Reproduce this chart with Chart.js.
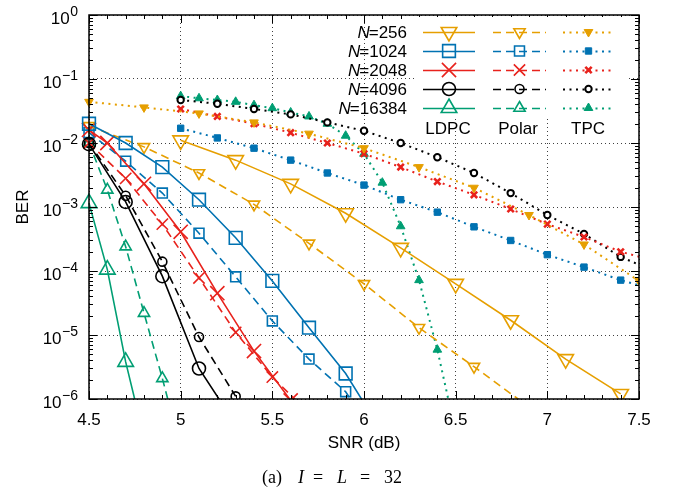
<!DOCTYPE html>
<html>
<head>
<meta charset="utf-8">
<script src="https://cdn.jsdelivr.net/npm/chart.js@4/dist/chart.umd.min.js"></script>
<style>
  html, body { margin: 0; padding: 0; background: #fff; }
</style>
</head>
<body>
<canvas id="myChart" width="678" height="498"></canvas>
<script>
// block lengths and code families
const nLabels = ['256', '1024', '2048', '4096', '16384'];
const codeNames = ['LDPC', 'Polar', 'TPC'];
const xTickVals = [4.5, 5, 5.5, 6, 6.5, 7, 7.5];
const yTickVals = [1e-6, 1e-5, 1e-4, 1e-3, 1e-2, 1e-1, 1];

// LDPC (solid)
const ldpc256Snr = [5.0, 5.3, 5.6, 5.9, 6.2, 6.5, 6.8, 7.1, 7.4];
const ldpc256Ber = [1.1e-2, 5.4e-3, 2.3e-3, 8e-4, 2.3e-4, 6.3e-5, 1.7e-5, 4.2e-6, 1.2e-6];
const ldpc1024Snr = [4.5, 4.7, 4.9, 5.1, 5.3, 5.5, 5.7, 5.9, 6.1];
const ldpc1024Ber = [2e-2, 1e-2, 4.2e-3, 1.3e-3, 3.3e-4, 7e-5, 1.3e-5, 2.5e-6, 3e-7];
const ldpc2048Snr = [4.5, 4.6, 4.8, 5.0, 5.2, 5.4, 5.6];
const ldpc2048Ber = [1.6e-2, 1e-2, 2.3e-3, 4.1e-4, 4.5e-5, 5.6e-6, 9.5e-7];
const ldpc4096Snr = [4.5, 4.7, 4.9, 5.1, 5.3];
const ldpc4096Ber = [9.6e-3, 1.2e-3, 8.3e-5, 3e-6, 4e-7];
const ldpc16384Snr = [4.5, 4.6, 4.7, 4.8];
const ldpc16384Ber = [1.15e-3, 1.05e-4, 3.8e-6, 2.5e-7];

// Polar (dashed)
const polar256Snr = [4.5, 4.8, 5.1, 5.4, 5.7, 6.0, 6.3, 6.6, 6.9];
const polar256Ber = [1.85e-2, 8.7e-3, 3.4e-3, 1.1e-3, 2.7e-4, 6.3e-5, 1.3e-5, 3.2e-6, 7.5e-7];
const polar1024Snr = [4.5, 4.7, 4.9, 5.1, 5.3, 5.5, 5.7, 5.9, 6.1];
const polar1024Ber = [1.45e-2, 5.2e-3, 1.65e-3, 3.9e-4, 8.1e-5, 1.66e-5, 4.2e-6, 1.3e-6, 1.6e-7];
const polar2048Snr = [4.5, 4.7, 4.9, 5.1, 5.3, 5.5, 5.7];
const polar2048Ber = [1e-2, 2.8e-3, 5.4e-4, 7.8e-5, 1.1e-5, 2.2e-6, 6e-7];
const polar4096Snr = [4.5, 4.7, 4.9, 5.1, 5.3];
const polar4096Ber = [1e-2, 1.5e-3, 1.4e-4, 9.3e-6, 1.1e-6];
const polar16384Snr = [4.5, 4.6, 4.7, 4.8, 4.9, 5.0];
const polar16384Ber = [1e-2, 1.85e-3, 2.4e-4, 2.2e-5, 2.1e-6, 1.7e-7];

// TPC (dotted)
const tpc256Snr = [4.5, 4.8, 5.1, 5.4, 5.7, 6.0, 6.3, 6.6, 6.9, 7.2, 7.5];
const tpc256Ber = [4.4e-2, 3.6e-2, 2.9e-2, 2.1e-2, 1.4e-2, 8.3e-3, 4.2e-3, 2e-3, 7.5e-4, 2.6e-4, 7e-5];
const tpc1024Snr = [5.0, 5.2, 5.4, 5.6, 5.8, 6.0, 6.2, 6.4, 6.6, 6.8, 7.0, 7.2, 7.4, 7.6];
const tpc1024Ber = [1.7e-2, 1.2e-2, 8.3e-3, 5.4e-3, 3.4e-3, 2.2e-3, 1.3e-3, 8.3e-4, 4.9e-4, 3e-4, 1.8e-4, 1.15e-4, 7.2e-5, 5e-5];
const tpc2048Snr = [5.0, 5.2, 5.4, 5.6, 5.8, 6.0, 6.2, 6.4, 6.6, 6.8, 7.0, 7.2, 7.4, 7.6];
const tpc2048Ber = [3.4e-2, 2.6e-2, 2e-2, 1.45e-2, 1e-2, 6.8e-3, 4.2e-3, 2.5e-3, 1.55e-3, 9.3e-4, 5.4e-4, 3.4e-4, 2e-4, 1.4e-4];
const tpc4096Snr = [5.0, 5.2, 5.4, 5.6, 5.8, 6.0, 6.2, 6.4, 6.6, 6.8, 7.0, 7.2, 7.4, 7.6];
const tpc4096Ber = [4.7e-2, 4.1e-2, 3.4e-2, 2.8e-2, 2.1e-2, 1.55e-2, 1e-2, 6e-3, 3.4e-3, 1.65e-3, 7.5e-4, 3.8e-4, 1.66e-4, 9.5e-5];
const tpc16384Snr = [5.0, 5.1, 5.2, 5.3, 5.4, 5.5, 5.6, 5.7, 5.8, 5.9, 6.0, 6.1, 6.2, 6.3, 6.4, 6.5];
const tpc16384Ber = [5.4e-2, 5e-2, 4.7e-2, 4.4e-2, 3.9e-2, 3.5e-2, 3e-2, 2.6e-2, 2e-2, 1.3e-2, 6.8e-3, 2.4e-3, 5e-4, 7.2e-5, 5.9e-6, 3e-7];

const series = [
    { code: 0, n: 0, snr: ldpc256Snr, ber: ldpc256Ber },
    { code: 0, n: 1, snr: ldpc1024Snr, ber: ldpc1024Ber },
    { code: 0, n: 2, snr: ldpc2048Snr, ber: ldpc2048Ber },
    { code: 0, n: 3, snr: ldpc4096Snr, ber: ldpc4096Ber },
    { code: 0, n: 4, snr: ldpc16384Snr, ber: ldpc16384Ber },
    { code: 1, n: 0, snr: polar256Snr, ber: polar256Ber },
    { code: 1, n: 1, snr: polar1024Snr, ber: polar1024Ber },
    { code: 1, n: 2, snr: polar2048Snr, ber: polar2048Ber },
    { code: 1, n: 3, snr: polar4096Snr, ber: polar4096Ber },
    { code: 1, n: 4, snr: polar16384Snr, ber: polar16384Ber },
    { code: 2, n: 0, snr: tpc256Snr, ber: tpc256Ber },
    { code: 2, n: 1, snr: tpc1024Snr, ber: tpc1024Ber },
    { code: 2, n: 2, snr: tpc2048Snr, ber: tpc2048Ber },
    { code: 2, n: 3, snr: tpc4096Snr, ber: tpc4096Ber },
    { code: 2, n: 4, snr: tpc16384Snr, ber: tpc16384Ber }
];

// styles
const colors = ['#e69f00', '#0072b2', '#e8221c', '#000000', '#009e73'];
const shapes = ['triangle', 'rect', 'crossRot', 'circle', 'triangle'];
const rotations = [180, 0, 0, 0, 0];
const dashes = [[], [8, 5], [2, 4.5]];
const lineWidths = [1.6, 1.6, 2];
const radii = [
    [9, 9, 10, 6.5, 9],
    [6.5, 7, 8, 4.5, 6.5],
    [5, 4.5, 4.5, 3.2, 5]
];

function markerStyle(code, n) {
    const filled = code === 2;
    let bg = filled ? colors[n] : 'rgba(0,0,0,0)';
    let bw = 1.6;
    if (filled && shapes[n] === 'circle') { bg = '#ffffff'; bw = 2; }
    if (filled && shapes[n] === 'crossRot') bw = 2.6;
    if (filled && (shapes[n] === 'triangle' || shapes[n] === 'rect')) bw = 1;
    return {
        pointStyle: shapes[n],
        rotation: rotations[n],
        radius: radii[code][n],
        borderWidth: bw,
        backgroundColor: bg,
        borderColor: colors[n]
    };
}

const datasets = series.map(s => {
    const m = markerStyle(s.code, s.n);
    return {
        label: codeNames[s.code] + ' N=' + nLabels[s.n],
        data: s.snr.map((x, i) => ({ x: x, y: s.ber[i] })),
        borderColor: colors[s.n],
        borderWidth: lineWidths[s.code],
        borderDash: dashes[s.code],
        pointStyle: m.pointStyle,
        pointRotation: m.rotation,
        pointRadius: m.radius,
        pointHoverRadius: m.radius,
        pointBorderWidth: m.borderWidth,
        pointBackgroundColor: m.backgroundColor,
        pointBorderColor: m.borderColor,
        fill: false,
        tension: 0,
        clip: { left: 12, top: 5, right: 0, bottom: 0 }
    };
});

const SANS = '"Liberation Sans", Arial, sans-serif';
const SERIF = '"Liberation Serif", "Times New Roman", serif';

const decorations = {
    id: 'decorations',
    afterDraw(chart) {
        const ctx = chart.ctx;
        const a = chart.chartArea;
        const xs = chart.scales.x;
        const ys = chart.scales.y;
        ctx.save();
        ctx.setLineDash([]);

        // inside tick marks
        ctx.strokeStyle = '#000';
        ctx.lineWidth = 1;
        ctx.beginPath();
        for (let v = 45; v <= 75; v++) {
            const px = Math.round(xs.getPixelForValue(v / 10)) + 0.5;
            const len = v % 5 === 0 ? 8 : 4;
            ctx.moveTo(px, a.bottom); ctx.lineTo(px, a.bottom - len);
            ctx.moveTo(px, a.top); ctx.lineTo(px, a.top + len);
        }
        for (let e = -6; e <= 0; e++) {
            for (let m = 1; m <= 9; m++) {
                const v = m * Math.pow(10, e);
                if (v > 1) break;
                const py = Math.round(ys.getPixelForValue(v)) + 0.5;
                const len = m === 1 ? 8 : 4;
                ctx.moveTo(a.left, py); ctx.lineTo(a.left + len, py);
                ctx.moveTo(a.right, py); ctx.lineTo(a.right - len, py);
            }
        }
        ctx.stroke();

        // legend box
        ctx.fillStyle = '#fff';
        ctx.fillRect(417, 17, 211, 100);
        const rowY0 = 32, rowStep = 19;
        const colX = [[423, 475], [493, 546], [563, 614]];
        for (let n = 0; n < nLabels.length; n++) {
            const y = rowY0 + n * rowStep;
            ctx.fillStyle = '#000';
            ctx.textBaseline = 'alphabetic';
            ctx.textAlign = 'right';
            ctx.font = '17px ' + SANS;
            const rest = '=' + nLabels[n];
            ctx.fillText(rest, 407, y + 6);
            const w = ctx.measureText(rest).width;
            ctx.font = 'italic 17px ' + SANS;
            ctx.fillText('N', 407 - w + 1, y + 6);
            for (let c = 0; c < 3; c++) {
                ctx.save();
                ctx.strokeStyle = colors[n];
                ctx.lineWidth = lineWidths[c];
                ctx.setLineDash(dashes[c]);
                ctx.beginPath();
                ctx.moveTo(colX[c][0], y + 0.5);
                ctx.lineTo(colX[c][1], y + 0.5);
                ctx.stroke();
                ctx.setLineDash([]);
                const m = markerStyle(c, n);
                ctx.fillStyle = m.backgroundColor;
                ctx.strokeStyle = m.borderColor;
                ctx.lineWidth = m.borderWidth;
                Chart.helpers.drawPoint(ctx, m, (colX[c][0] + colX[c][1]) / 2, y);
                ctx.restore();
            }
        }
        ctx.fillStyle = '#000';
        ctx.textAlign = 'center';
        ctx.font = '17px ' + SANS;
        ctx.fillText('LDPC', 448, 134);
        ctx.fillText('Polar', 518, 134);
        ctx.fillText('TPC', 588, 134);

        // frame
        ctx.strokeStyle = '#000';
        ctx.lineWidth = 1.5;
        ctx.strokeRect(a.left, a.top, a.right - a.left, a.bottom - a.top);

        // x tick labels
        ctx.fillStyle = '#000';
        ctx.font = '17px ' + SANS;
        ctx.textAlign = 'center';
        xTickVals.forEach(v => {
            ctx.fillText(String(v), xs.getPixelForValue(v), 425);
        });

        // y tick labels with superscript exponent
        yTickVals.forEach(v => {
            const py = ys.getPixelForValue(v);
            const ex = Math.round(Math.log10(v));
            const sup = ex === 0 ? '0' : '\u2212' + Math.abs(ex);
            ctx.textAlign = 'right';
            ctx.font = '14px ' + SANS;
            ctx.fillText(sup, 78, py + 1);
            const sw = ctx.measureText(sup).width;
            ctx.font = '17px ' + SANS;
            ctx.fillText('10', 78 - sw - 0.5, py + 9);
        });

        // axis titles
        ctx.textAlign = 'center';
        ctx.font = '17px ' + SANS;
        ctx.fillText('SNR (dB)', (a.left + a.right) / 2, 448);
        ctx.save();
        ctx.translate(23, (a.top + a.bottom) / 2);
        ctx.rotate(-Math.PI / 2);
        ctx.textBaseline = 'middle';
        ctx.fillText('BER', 0, 0);
        ctx.restore();

        // caption, math-style spacing
        const parts = [['(a)', false, 262], ['I', true, 298], ['=', false, 313], ['L', true, 337], ['=', false, 360], ['32', false, 384]];
        ctx.textAlign = 'left';
        parts.forEach(p => {
            ctx.font = (p[1] ? 'italic ' : '') + '18px ' + SERIF;
            ctx.fillText(p[0], p[2], 483);
        });
        ctx.restore();
    }
};

const gridColor = 'rgba(0,0,0,0.75)';
const ctx = document.getElementById('myChart').getContext('2d');
new Chart(ctx, {
    type: 'line',
    data: { datasets: datasets },
    options: {
        responsive: false,
        animation: false,
        devicePixelRatio: 1,
        layout: { padding: { left: 0, right: 39, top: 15, bottom: 0 }, autoPadding: false },
        plugins: { legend: { display: false }, tooltip: { enabled: false } },
        scales: {
            x: {
                type: 'linear',
                min: 4.5,
                max: 7.5,
                afterBuildTicks: s => { s.ticks = xTickVals.map(v => ({ value: v })); },
                afterFit: s => { s.height = 99; },
                ticks: { display: false },
                grid: { color: gridColor, lineWidth: 1, drawTicks: false },
                border: { display: false, dash: [1, 3] }
            },
            y: {
                type: 'logarithmic',
                min: 1e-6,
                max: 1,
                afterBuildTicks: s => { s.ticks = yTickVals.map(v => ({ value: v })); },
                afterFit: s => { s.width = 89; },
                ticks: { display: false },
                grid: { color: gridColor, lineWidth: 1, drawTicks: false },
                border: { display: false, dash: [1, 3] }
            }
        }
    },
    plugins: [decorations]
});
</script>
</body>
</html>
